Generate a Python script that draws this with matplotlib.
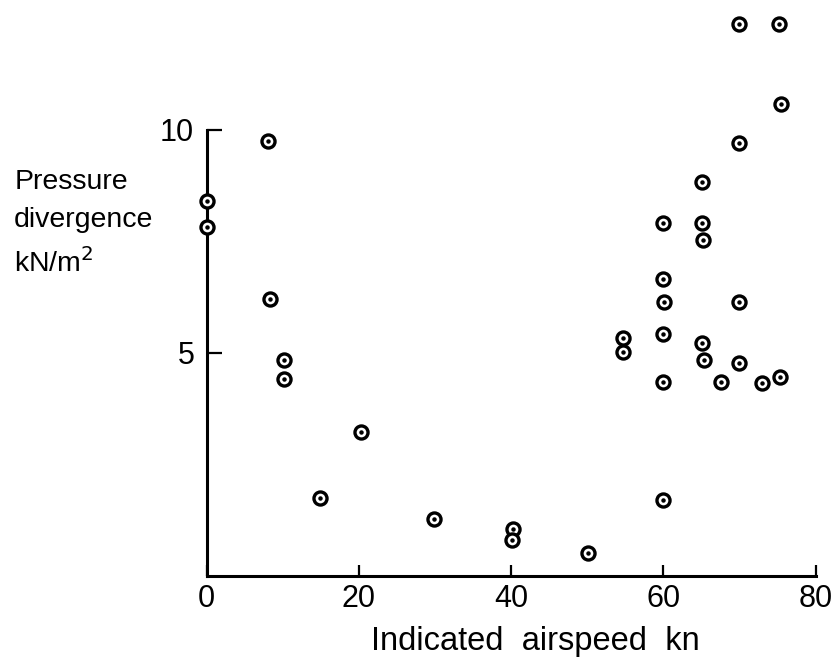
import matplotlib
matplotlib.use("Agg")
import matplotlib.pyplot as plt

# vitesse indiquée (kn) et divergence de pression (kN/m2)
airspeed = [0, 0, 8, 8.3, 10.2, 10.1, 14.9, 20.2, 29.9, 40.2, 40.1, 50.1,
            54.7, 54.7, 59.9, 60.0, 59.9, 60.1, 60.0, 59.9,
            65.0, 65.0, 65.2, 65.1, 65.3, 67.5,
            69.9, 69.9, 69.9, 69.9, 72.9,
            75.2, 75.4, 75.3]
pressure = [8.41, 7.83, 9.75, 6.21, 4.84, 4.42, 1.74, 3.22, 1.27, 1.05, 0.81, 0.51,
            5.33, 5.03, 1.70, 7.91, 6.67, 6.15, 5.43, 4.34,
            8.84, 7.92, 7.53, 5.22, 4.84, 4.34,
            12.38, 9.70, 6.15, 4.77, 4.33,
            12.38, 10.58, 4.47]

xticks = [0, 20, 40, 60, 80]
yticks = [5, 10]

plt.rcParams['font.family'] = ['Liberation Sans', 'DejaVu Sans']

fig = plt.figure(figsize=(8.38, 6.67), dpi=100)
ax = fig.add_axes([0.2467, 0.1364, 0.7267, 0.856])

ax.plot(airspeed, pressure, linestyle='none', marker='o', markersize=9.4,
        markerfacecolor='white', markeredgecolor='black', markeredgewidth=2.4,
        clip_on=False, zorder=3)
ax.plot(airspeed, pressure, linestyle='none', marker='o', markersize=2.2,
        color='black', clip_on=False, zorder=4)

ax.set_xlim(0, 80)
ax.set_ylim(0, 12.8)
ax.set_xticks(xticks)
ax.set_yticks(yticks)

for side in ['top', 'right']:
    ax.spines[side].set_visible(False)
ax.spines['left'].set_bounds(0, 10)
ax.spines['left'].set_linewidth(2.2)
ax.spines['bottom'].set_linewidth(2.2)

ax.tick_params(direction='in', length=8, width=1.6, labelsize=22, pad=6)
ax.tick_params(axis='y', length=11, pad=9)

ax.set_xlabel("Indicated  airspeed  kn", fontsize=23.5, va='center')
ax.xaxis.set_label_coords(0.539, -0.115)
fig.text(0.017, 0.746, "Pressure\ndivergence\nkN/m$^2$", fontsize=20.5,
         ha='left', va='top', linespacing=1.6)

fig.savefig("out.png", dpi=100)
